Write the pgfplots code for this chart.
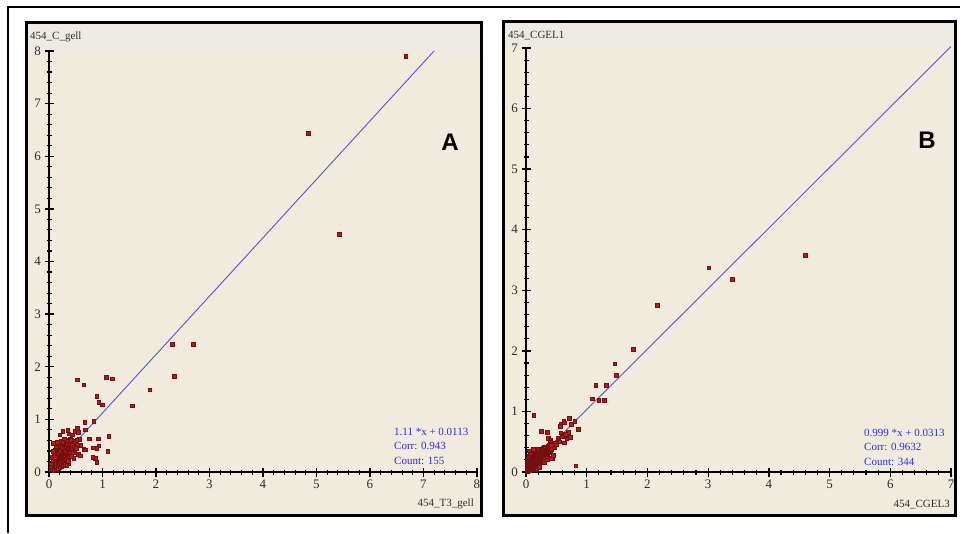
\documentclass[border=0pt]{standalone}
\usepackage{fontspec}
\setmainfont{Liberation Serif}
\newfontfamily\arialfont{Liberation Sans}
\usepackage{pgfplots}
\pgfplotsset{compat=1.18}

\definecolor{panelbg}{RGB}{240,235,220}
\definecolor{headbg}{RGB}{236,234,227}
\definecolor{ptfill}{RGB}{170,30,30}
\definecolor{ptdraw}{RGB}{115,15,15}
\definecolor{fitline}{RGB}{85,85,205}
\definecolor{stattxt}{RGB}{45,45,225}
\definecolor{ticktxt}{RGB}{45,45,45}

\pgfplotsset{
  panel/.style={
    scale only axis, anchor=south west,
    axis lines=left,
    axis line style={-, black, line width=1.1pt},
    tick align=center,
    major tick length=9pt, minor tick length=5pt,
    minor tick num=4,
    major tick style={black, line width=1.3pt},
    minor tick style={black, line width=1.1pt},
    tick label style={font=\fontsize{13}{14}\selectfont, text=ticktxt},
    /pgf/number format/assume math mode=true,
    clip=false,
  },
  pts/.style={only marks, mark=square*, mark size=1.8pt,
    mark options={fill=ptfill, draw=ptdraw, line width=0.5pt}},
}

\begin{document}
\begin{tikzpicture}
% outer frame
\draw[black, line width=2.5pt] (8pt,0pt) -- (8pt,526pt) -- (960pt,526pt);
% panel A
\fill[headbg] (26pt,18pt) rectangle (481pt,510pt);
\fill[panelbg] (26pt,18pt) rectangle (481pt,482pt);
\draw[black, line width=3pt] (26pt,18pt) rectangle (481pt,510pt);
% panel B
\fill[headbg] (503pt,18pt) rectangle (955pt,511pt);
\fill[panelbg] (503pt,18pt) rectangle (955pt,485pt);
\draw[black, line width=3pt] (503pt,18pt) rectangle (955pt,511pt);

\begin{axis}[panel, at={(49pt,61pt)}, width=428pt, height=421pt,
  xmin=0, xmax=8, ymin=0, ymax=8, xtick={0,1,...,8}, ytick={0,1,...,8}]
\addplot[pts] coordinates {
(6.67,7.90) (4.85,6.44) (5.43,4.52) (2.30,2.43) (2.70,2.43) (2.34,1.82)
(1.88,1.56) (1.56,1.26) (0.53,1.75) (0.65,1.66) (1.07,1.80) (1.18,1.77)
(0.89,1.44) (0.93,1.33) (1.00,1.28) (0.84,0.97) (0.67,0.95) (1.12,0.68)
(1.10,0.39) (0.68,0.80) (0.75,0.63) (0.92,0.63) (0.93,0.50) (0.83,0.46)
(0.89,0.45) (0.87,0.26) (0.82,0.28) (0.89,0.19) (0.57,0.62) (0.58,0.51)
(0.55,0.34) (0.58,0.31) (0.65,0.43) (0.68,0.42) (0.44,0.40) (0.46,0.26)
(0.37,0.17) (0.55,0.75) (0.48,0.77) (0.37,0.73) (0.40,0.63) (0.35,0.79)
(0.26,0.77) (0.20,0.71) (0.08,0.55) (0.53,0.83) (0.44,0.71)
(0.05,0.08) (0.06,0.12) (0.07,0.05) (0.08,0.15) (0.08,0.22) (0.09,0.10)
(0.10,0.18) (0.10,0.30) (0.11,0.07) (0.11,0.25) (0.12,0.14) (0.12,0.35)
(0.13,0.20) (0.13,0.09) (0.14,0.28) (0.14,0.16) (0.15,0.22) (0.15,0.40)
(0.16,0.12) (0.16,0.30) (0.17,0.19) (0.17,0.25) (0.18,0.34) (0.18,0.15)
(0.19,0.22) (0.19,0.45) (0.20,0.28) (0.20,0.18) (0.21,0.36) (0.21,0.24)
(0.22,0.31) (0.22,0.14) (0.23,0.42) (0.23,0.26) (0.24,0.20) (0.24,0.34)
(0.25,0.29) (0.25,0.50) (0.26,0.38) (0.26,0.23) (0.27,0.32) (0.27,0.44)
(0.28,0.27) (0.28,0.18) (0.29,0.36) (0.29,0.55) (0.30,0.40) (0.30,0.30)
(0.31,0.24) (0.31,0.47) (0.32,0.35) (0.32,0.60) (0.33,0.42) (0.33,0.28)
(0.34,0.38) (0.34,0.52) (0.35,0.33) (0.35,0.22) (0.36,0.45) (0.36,0.58)
(0.37,0.40) (0.38,0.50) (0.38,0.30) (0.39,0.44) (0.40,0.36) (0.40,0.55)
(0.41,0.48) (0.42,0.30) (0.42,0.60) (0.43,0.45) (0.44,0.52) (0.45,0.38)
(0.46,0.58) (0.47,0.48) (0.48,0.42) (0.49,0.55) (0.50,0.50) (0.51,0.45)
(0.52,0.60) (0.53,0.52) (0.22,0.58) (0.18,0.52) (0.14,0.48) (0.12,0.42)
(0.10,0.38) (0.09,0.33) (0.06,0.28) (0.07,0.20) (0.04,0.15) (0.05,0.04)
(0.03,0.10) (0.09,0.03) (0.13,0.04) (0.17,0.06) (0.20,0.08) (0.24,0.10)
(0.27,0.12) (0.30,0.15) (0.33,0.13) (0.36,0.20) (0.16,0.36) (0.20,0.40)
(0.24,0.46) (0.28,0.62) (0.12,0.28) (0.08,0.40) (0.15,0.56) (0.26,0.56)
};
\addplot[fitline, line width=0.9pt] coordinates {(0,0.0113) (7.2,8.0033)};
\end{axis}

\begin{axis}[panel, at={(526pt,61pt)}, width=425pt, height=424pt,
  xmin=0, xmax=7, ymin=0, ymax=7, xtick={0,1,...,7}, ytick={0,1,...,7}]
\addplot[pts] coordinates {
(4.60,3.58) (3.01,3.37) (3.40,3.18) (2.16,2.75) (1.77,2.03) (1.46,1.79)
(1.49,1.60) (1.15,1.43) (1.32,1.43) (1.09,1.21) (1.20,1.18) (1.29,1.18)
(0.13,0.94) (0.82,0.10) (0.86,0.71) (0.80,0.84) (0.71,0.89) (0.62,0.84)
(0.57,0.79) (0.70,0.66) (0.73,0.57) (0.75,0.79) (0.25,0.67) (0.35,0.66)
(0.57,0.65) (0.52,0.56) (0.54,0.51) (0.43,0.22) (0.44,0.25) (0.37,0.56)
(0.41,0.52) (0.56,0.76) (0.63,0.81) (0.67,0.55) (0.63,0.48) (0.40,0.50)
(0.42,0.46) (0.48,0.48) (0.42,0.23) (0.45,0.28) (0.47,0.40) (0.50,0.45)
(0.55,0.50) (0.60,0.58) (0.65,0.62)
(0.01,0.02) (0.01,0.05) (0.01,0.10)
(0.02,0.01) (0.02,0.06) (0.02,0.12) (0.02,0.18)
(0.03,0.03) (0.03,0.08) (0.03,0.14) (0.03,0.22)
(0.04,0.02) (0.04,0.05) (0.04,0.10) (0.04,0.16)
(0.05,0.04) (0.05,0.09) (0.05,0.13) (0.05,0.20) (0.05,0.26)
(0.06,0.03) (0.06,0.07) (0.06,0.11) (0.06,0.17)
(0.07,0.05) (0.07,0.10) (0.07,0.15) (0.07,0.21) (0.07,0.30)
(0.08,0.04) (0.08,0.08) (0.08,0.12) (0.08,0.18) (0.08,0.24)
(0.09,0.06) (0.09,0.11) (0.09,0.16) (0.09,0.22)
(0.10,0.05) (0.10,0.09) (0.10,0.14) (0.10,0.19) (0.10,0.27) (0.10,0.33)
(0.11,0.07) (0.11,0.12) (0.11,0.17) (0.11,0.23)
(0.12,0.06) (0.12,0.10) (0.12,0.15) (0.12,0.20) (0.12,0.29)
(0.13,0.08) (0.13,0.13) (0.13,0.18) (0.13,0.24) (0.13,0.31)
(0.14,0.09) (0.14,0.14) (0.14,0.19) (0.14,0.26)
(0.15,0.07) (0.15,0.12) (0.15,0.17) (0.15,0.22) (0.15,0.28) (0.15,0.35)
(0.16,0.10) (0.16,0.15) (0.16,0.21) (0.16,0.27)
(0.17,0.11) (0.17,0.16) (0.17,0.20) (0.17,0.25) (0.17,0.32)
(0.18,0.09) (0.18,0.14) (0.18,0.19) (0.18,0.24) (0.18,0.30)
(0.19,0.13) (0.19,0.18) (0.19,0.23) (0.19,0.29)
(0.20,0.12) (0.20,0.17) (0.20,0.22) (0.20,0.27) (0.20,0.33) (0.20,0.38)
(0.21,0.15) (0.21,0.20) (0.21,0.25) (0.21,0.31)
(0.22,0.14) (0.22,0.19) (0.22,0.24) (0.22,0.28) (0.22,0.35)
(0.23,0.16) (0.23,0.21) (0.23,0.26) (0.23,0.32)
(0.24,0.15) (0.24,0.20) (0.24,0.25) (0.24,0.30) (0.24,0.36)
(0.25,0.18) (0.25,0.23) (0.25,0.28) (0.25,0.34)
(0.26,0.17) (0.26,0.22) (0.26,0.27) (0.26,0.31) (0.26,0.38)
(0.27,0.20) (0.27,0.25) (0.27,0.30) (0.27,0.35)
(0.28,0.19) (0.28,0.24) (0.28,0.29) (0.28,0.33) (0.28,0.40)
(0.29,0.22) (0.29,0.27) (0.29,0.32) (0.29,0.37)
(0.30,0.21) (0.30,0.26) (0.30,0.31) (0.30,0.36) (0.30,0.42)
(0.31,0.25) (0.31,0.30) (0.31,0.34)
(0.32,0.24) (0.32,0.29) (0.32,0.35) (0.32,0.39)
(0.33,0.27) (0.33,0.32) (0.33,0.37)
(0.34,0.26) (0.34,0.31) (0.34,0.36) (0.34,0.41)
(0.35,0.29) (0.35,0.34) (0.35,0.39)
(0.36,0.30) (0.36,0.37) (0.36,0.43)
(0.37,0.32) (0.37,0.38)
(0.38,0.34) (0.38,0.40) (0.38,0.45)
(0.40,0.36) (0.40,0.42) (0.42,0.38) (0.42,0.44)
(0.18,0.05) (0.22,0.08) (0.30,0.15) (0.35,0.20)
(0.05,0.35) (0.08,0.30) (0.12,0.38)
};
\addplot[fitline, line width=0.9pt] coordinates {(0,0.0313) (7,7.0243)};
\end{axis}

% axis titles
\node[anchor=base west, font=\fontsize{11}{12}\selectfont, text=ticktxt, inner sep=0] at (30pt,493pt) {454\_C\_gell};
\node[anchor=base east, font=\fontsize{11}{12}\selectfont, text=ticktxt, inner sep=0] at (474pt,27pt) {454\_T3\_gell};
\node[anchor=base west, font=\fontsize{11}{12}\selectfont, text=ticktxt, inner sep=0] at (508pt,494pt) {454\_CGEL1};
\node[anchor=base east, font=\fontsize{11}{12}\selectfont, text=ticktxt, inner sep=0] at (950pt,26pt) {454\_CGEL3};

% stats
\node[anchor=base west, font=\fontsize{11}{12}\selectfont, text=stattxt, inner sep=0] at (394pt,98pt) {1.11 *x + 0.0113};
\node[anchor=base west, font=\fontsize{11}{12}\selectfont, text=stattxt, inner sep=0] at (394pt,84pt) {Corr: 0.943};
\node[anchor=base west, font=\fontsize{11}{12}\selectfont, text=stattxt, inner sep=0] at (394pt,69pt) {Count: 155};
\node[anchor=base west, font=\fontsize{11}{12}\selectfont, text=stattxt, inner sep=0] at (864pt,97pt) {0.999 *x + 0.0313};
\node[anchor=base west, font=\fontsize{11}{12}\selectfont, text=stattxt, inner sep=0] at (864pt,83pt) {Corr: 0.9632};
\node[anchor=base west, font=\fontsize{11}{12}\selectfont, text=stattxt, inner sep=0] at (864pt,68pt) {Count: 344};

% panel letters
\node[font=\arialfont\bfseries\fontsize{24}{24}\selectfont] at (450pt,391pt) {A};
\node[font=\arialfont\bfseries\fontsize{24}{24}\selectfont] at (927pt,393pt) {B};

\pgfresetboundingbox
\path[use as bounding box] (0pt,0pt) rectangle (965pt,533pt);
\end{tikzpicture}
\end{document}
